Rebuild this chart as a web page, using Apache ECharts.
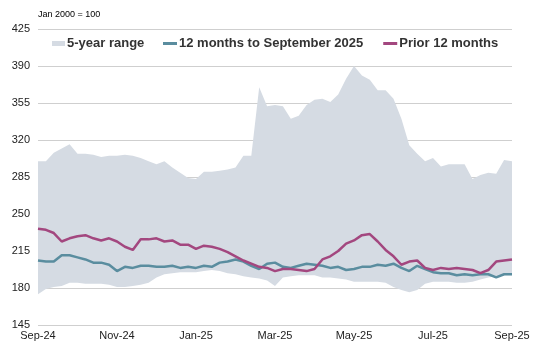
<!DOCTYPE html>
<html>
<head>
<meta charset="utf-8">
<script src="https://cdn.jsdelivr.net/npm/echarts@6/dist/echarts.min.js"></script>
<style>
html,body{margin:0;padding:0;background:#fff;}
#chart{width:533px;height:348px;}
</style>
</head>
<body>
<div id="chart"></div>
<script>
// Tick labels on the x axis (one every 10 weekly points)
var tickLabels = ['Sep-24','Nov-24','Jan-25','Mar-25','May-25','Jul-25','Sep-25'];

// 5-year range: upper and lower bounds (Jan 2000 = 100), ~weekly points
var rangeUpper = [300,300,308,312,316,307,307,306,304,305,
                  305,306,305,303,300,297,300,294,289,284,
                  283,290,290,291,292,294,305,305,370,352,
                  353,352,340,343,353,358,359,356,363,378,
                  390,381,377,367,367,359,340,315,307,300,
                  303,295,297,297,297,283,287,289,288,301,300];
var rangeLower = [174,179,181,182,185,185,184,184,184,183,
                  181,181,182,183,185,190,193,194,195,195,
                  195,196,197,196,194,193,191,190,189,187,
                  182,190,191,192,192,192,190,190,189,188,
                  186,186,186,186,185,181,178,176,178,184,
                  186,186,186,185,185,186,188,190,191,192,192];

// 12 months to September 2025
var last12 = [206,205,205,211,211,209,207,204,204,202,
              196,200,199,201,201,200,200,201,199,200,
              199,201,200,204,205,207,205,201,198,203,
              204,200,199,201,203,202,201,199,200,197,
              198,200,200,202,201,203,199,196,201,198,
              195,194,194,192,193,192,193,193,190,193,193];

// Prior 12 months
var prior12 = [236,235,232,224,227,229,230,227,225,227,
               224,219,216,226,226,227,224,225,221,221,
               217,220,219,217,214,210,206,203,200,199,
               196,198,198,197,196,198,207,210,215,222,
               225,230,231,224,216,210,202,205,206,199,
               197,199,198,199,198,197,194,197,205,206,207];

var categories = last12.map(function(_, i){ return 'p' + i; });
var rangeSpan = rangeUpper.map(function(u, i){ return u - rangeLower[i]; });

var FONT = '"Liberation Sans", Arial, sans-serif';
var BAND = '#d5dbe3', TEAL = '#5a8d9f', PURPLE = '#a3477f';
var legendText = {fontSize: 13, fontWeight: 'bold', color: '#333', fontFamily: FONT, padding: [0, 0, 0, -3]};

var chart = echarts.init(document.getElementById('chart'), null, {renderer:'canvas'});
chart.setOption({
  animation: false,
  backgroundColor: '#fff',
  title: {
    text: 'Jan 2000 = 100', left: 38, top: 10, padding: 0,
    textStyle: {fontSize: 9, fontWeight: 'normal', color: '#000', fontFamily: FONT}
  },
  legend: [{
    data: [{name: '5-year range', icon: 'rect'}],
    left: 52, top: 37, padding: 0,
    itemWidth: 13, itemHeight: 5,
    textStyle: legendText
  }, {
    data: [{name: '12 months to September 2025', icon: 'rect'}, {name: 'Prior 12 months', icon: 'rect'}],
    left: 163, top: 37, padding: 0, itemGap: 20,
    itemWidth: 14, itemHeight: 3,
    textStyle: legendText
  }],
  grid: {left: 38, right: 21, top: 29, bottom: 23, containLabel: false},
  xAxis: {
    type: 'category', data: categories, boundaryGap: false,
    axisLine: {show: false}, axisTick: {show: false},
    axisLabel: {
      margin: 5, fontSize: 11, color: '#222', fontFamily: FONT,
      interval: function(idx){ return idx % 10 === 0; },
      formatter: function(val, idx){ return tickLabels[idx / 10] || ''; }
    },
    splitLine: {show: false}
  },
  yAxis: {
    type: 'value', min: 145, max: 425, interval: 35,
    axisLine: {show: false}, axisTick: {show: false},
    axisLabel: {margin: 8, fontSize: 11, color: '#222', fontFamily: FONT},
    splitLine: {lineStyle: {color: '#cfcfcf', width: 1}}
  },
  series: [{
    name: 'rangeBase', type: 'line', stack: 'band', data: rangeLower,
    symbol: 'none', lineStyle: {opacity: 0}, silent: true, z: 1
  }, {
    name: '5-year range', type: 'line', stack: 'band', data: rangeSpan,
    color: BAND, symbol: 'none', lineStyle: {width: 0, opacity: 0},
    areaStyle: {color: BAND, opacity: 1}, silent: true, z: 1
  }, {
    name: '12 months to September 2025', type: 'line', data: last12,
    color: TEAL, symbol: 'none', lineStyle: {width: 2.5, color: TEAL}, z: 3
  }, {
    name: 'Prior 12 months', type: 'line', data: prior12,
    color: PURPLE, symbol: 'none', lineStyle: {width: 2.5, color: PURPLE}, z: 4
  }]
});
</script>
</body>
</html>
